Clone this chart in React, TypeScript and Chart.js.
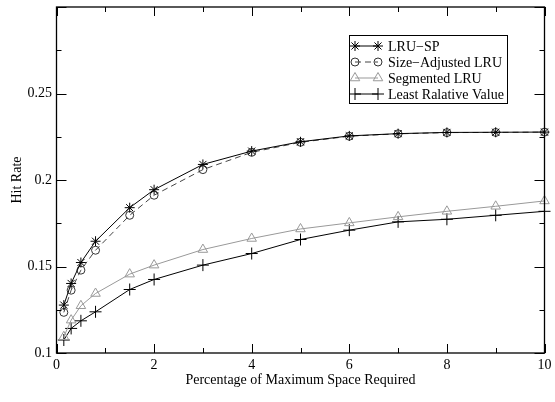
import React, { useEffect, useRef } from "react";
import { Chart, registerables } from "chart.js";
import { drawPoint } from "chart.js/helpers";

Chart.register(...registerables);

const xValues = [0.15, 0.3, 0.5, 0.8, 1.5, 2, 3, 4, 5, 6, 7, 8, 9, 10];
const lruSp = [0.1277, 0.1402, 0.1523, 0.1646, 0.184, 0.1944, 0.209, 0.2167, 0.2221, 0.2255, 0.2268, 0.2275, 0.2276, 0.2277];
const sizeAdjustedLru = [0.1235, 0.1363, 0.1479, 0.1594, 0.1796, 0.1912, 0.206, 0.216, 0.2218, 0.2253, 0.2267, 0.2274, 0.2275, 0.2277];
const segmentedLru = [0.1094, 0.119, 0.1273, 0.1344, 0.1456, 0.1508, 0.1598, 0.1662, 0.1717, 0.1752, 0.1787, 0.1819, 0.1848, 0.1879];
const leastRelativeValue = [0.1075, 0.1142, 0.1186, 0.1238, 0.1367, 0.1425, 0.1508, 0.1575, 0.1656, 0.171, 0.1758, 0.1773, 0.1796, 0.1819];
const seriesLabels = ["LRU\u2212SP", "Size\u2212Adjusted LRU", "Segmented LRU", "Least Ralative Value"];
const xTitle = "Percentage of Maximum Space Required";
const yTitle = "Hit Rate";

const FONT = "'Liberation Serif', 'Times New Roman', serif";

const toPoints = (ys: number[]) => xValues.map((x, i) => ({ x, y: ys[i] }));

const isMultiple = (v: number, step: number) => Math.abs(Math.round(v / step) * step - v) < 1e-6;

const framePlugin = {
  id: "frameTicks",
  afterDraw(chart: any) {
    const { ctx, chartArea } = chart;
    const { left, right, top, bottom } = chartArea;
    const xs = chart.scales.x;
    const ys = chart.scales.y;
    ctx.save();
    ctx.strokeStyle = "#000";
    ctx.lineWidth = 1;
    ctx.beginPath();
    xs.ticks.forEach((t: any) => {
      const px = Math.round(xs.getPixelForValue(t.value)) + 0.5;
      const len = isMultiple(t.value, 2) ? 9 : 5;
      ctx.moveTo(px, bottom);
      ctx.lineTo(px, bottom - len);
      ctx.moveTo(px, top);
      ctx.lineTo(px, top + len);
    });
    ys.ticks.forEach((t: any) => {
      const py = Math.round(ys.getPixelForValue(t.value)) + 0.5;
      const len = isMultiple(t.value, 0.05) ? 10 : 5;
      ctx.moveTo(left, py);
      ctx.lineTo(left + len, py);
      ctx.moveTo(right, py);
      ctx.lineTo(right - len, py);
    });
    ctx.stroke();
    ctx.lineWidth = 1.3;
    ctx.strokeRect(left, top, right - left, bottom - top);
    ctx.restore();
  },
};

const legendPlugin = {
  id: "boxLegend",
  afterDraw(chart: any) {
    const { ctx } = chart;
    const bx = 349.5, by = 35.5, bw = 158, bh = 68;
    ctx.save();
    ctx.fillStyle = "#fff";
    ctx.fillRect(bx, by, bw, bh);
    ctx.strokeStyle = "#000";
    ctx.lineWidth = 1;
    ctx.strokeRect(bx, by, bw, bh);
    chart.data.datasets.forEach((ds: any, i: number) => {
      const y = 46 + 16 * i;
      const x1 = 355, x2 = 378;
      ctx.save();
      ctx.strokeStyle = ds.borderColor;
      ctx.lineWidth = ds.borderWidth;
      ctx.setLineDash(ds.borderDash || []);
      ctx.beginPath();
      ctx.moveTo(x1, y);
      ctx.lineTo(x2, y);
      ctx.stroke();
      ctx.setLineDash([]);
      ctx.strokeStyle = ds.pointBorderColor;
      ctx.fillStyle = "rgba(0,0,0,0)";
      ctx.lineWidth = ds.pointBorderWidth;
      const opts = { pointStyle: ds.pointStyle, radius: ds.pointRadius, rotation: 0, borderWidth: ds.pointBorderWidth };
      drawPoint(ctx, opts, x1, y);
      drawPoint(ctx, opts, x2, y);
      ctx.restore();
      ctx.fillStyle = "#000";
      ctx.font = `14px ${FONT}`;
      ctx.textAlign = "left";
      ctx.textBaseline = "middle";
      ctx.fillText(ds.label, 388, y + 1);
    });
    ctx.restore();
  },
};

export default function App() {
  const canvasRef = useRef<HTMLCanvasElement | null>(null);

  useEffect(() => {
    const canvas = canvasRef.current;
    if (!canvas) return;
    const common = { tension: 0, borderWidth: 1, pointBorderWidth: 1, pointBackgroundColor: "rgba(0,0,0,0)", clip: false as any, fill: false };
    const chart = new Chart(canvas, {
      type: "line",
      data: {
        datasets: [
          { ...common, label: seriesLabels[0], data: toPoints(lruSp), borderColor: "#000", pointBorderColor: "#000", pointStyle: "star", pointRadius: 5 },
          { ...common, label: seriesLabels[1], data: toPoints(sizeAdjustedLru), borderColor: "#444", borderDash: [6, 4], pointBorderColor: "#333", pointStyle: "circle", pointRadius: 4 },
          { ...common, label: seriesLabels[2], data: toPoints(segmentedLru), borderColor: "#999", pointBorderColor: "#999", pointStyle: "triangle", pointRadius: 5.5 },
          { ...common, label: seriesLabels[3], data: toPoints(leastRelativeValue), borderColor: "#000", pointBorderColor: "#000", pointStyle: "cross", pointRadius: 6 },
        ] as any,
      },
      options: {
        animation: false,
        responsive: false,
        devicePixelRatio: 1,
        layout: { padding: { left: 0, top: 7, right: 10.5, bottom: 0 } },
        plugins: { legend: { display: false }, tooltip: { enabled: false } },
        elements: { point: { hoverRadius: 5 } },
        scales: {
          x: {
            type: "linear",
            min: 0,
            max: 10,
            grid: { display: false, drawTicks: false },
            border: { display: false },
            ticks: {
              stepSize: 1,
              autoSkip: false,
              maxRotation: 0,
              padding: 4,
              color: "#000",
              font: { family: FONT, size: 14 },
              callback: (v: any) => (isMultiple(Number(v), 2) ? String(Number(v)) : ""),
            },
            title: { display: true, text: xTitle, color: "#000", font: { family: FONT, size: 14 }, padding: { top: 0, bottom: 13 } },
            afterFit: (s: any) => { s.height = 49; s.paddingLeft = 0; s.paddingRight = 0; },
          },
          y: {
            type: "linear",
            min: 0.1,
            max: 0.3,
            grid: { display: false, drawTicks: false },
            border: { display: false },
            ticks: {
              stepSize: 0.025,
              autoSkip: false,
              padding: 4.5,
              color: "#000",
              font: { family: FONT, size: 14 },
              callback: (v: any) => {
                const n = Number(v);
                if (!isMultiple(n, 0.05) || n > 0.29) return "";
                return String(parseFloat(n.toFixed(3)));
              },
            },
            title: { display: true, text: yTitle, color: "#000", font: { family: FONT, size: 14 }, padding: { top: 8.5, bottom: 0 } },
            afterFit: (s: any) => { s.width = 56.5; s.paddingTop = 0; s.paddingBottom = 0; },
          },
        },
      },
      plugins: [framePlugin, legendPlugin],
    });
    return () => chart.destroy();
  }, []);

  return (
    <div style={{ position: "absolute", left: 0, top: 0, width: 555, height: 402, background: "#fff" }}>
      <canvas ref={canvasRef} width={555} height={402} style={{ display: "block", width: 555, height: 402 }} />
    </div>
  );
}
